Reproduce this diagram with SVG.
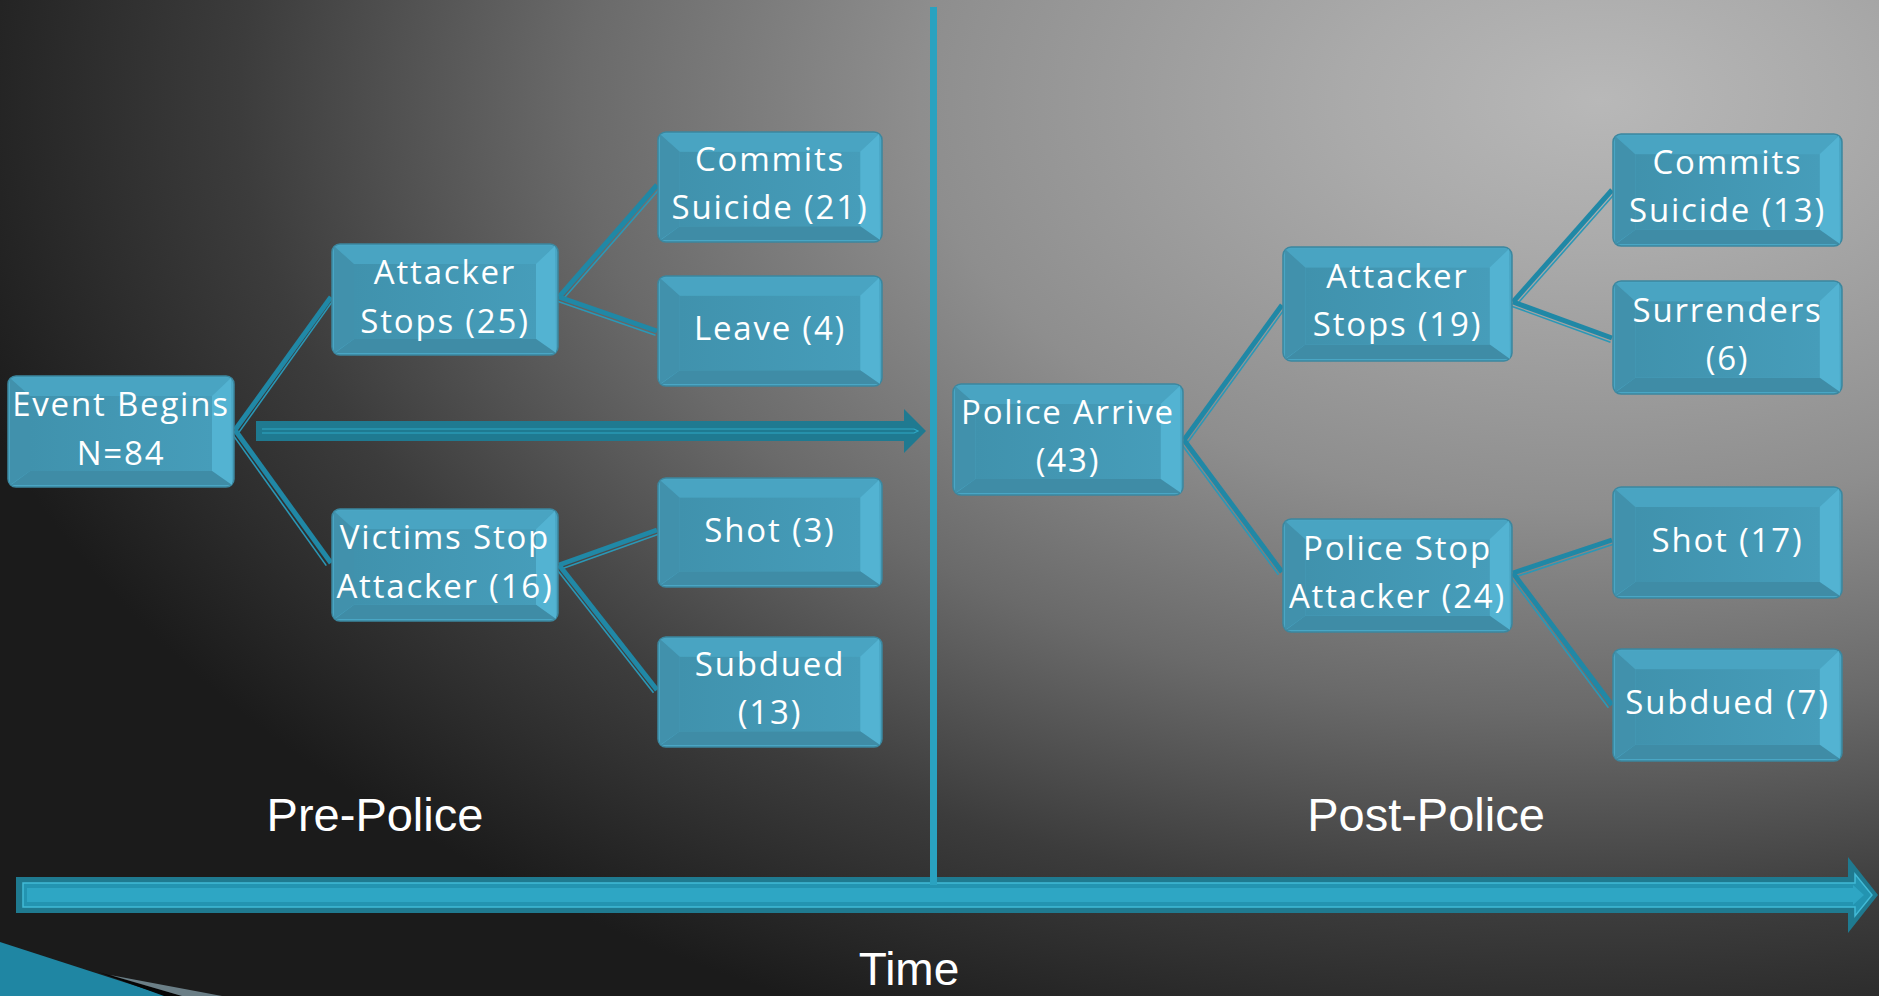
<svg xmlns="http://www.w3.org/2000/svg" width="1879" height="996" viewBox="0 0 1879 996">
<defs>
<radialGradient id="bg" gradientUnits="userSpaceOnUse" cx="1600" cy="100" r="1700" gradientTransform="translate(1600,100) scale(1,0.6) translate(-1600,-100)">
<stop offset="0" stop-color="#b8b8b8"/>
<stop offset="0.15" stop-color="#aaaaaa"/>
<stop offset="0.4" stop-color="#8e8e8e"/>
<stop offset="0.6" stop-color="#6a6a6a"/>
<stop offset="0.8" stop-color="#3c3c3c"/>
<stop offset="1" stop-color="#1b1b1b"/>
</radialGradient>
<linearGradient id="face" x1="0" y1="0" x2="1" y2="0">
<stop offset="0" stop-color="#4092ad"/>
<stop offset="1" stop-color="#469dba"/>
</linearGradient>
<symbol id="btn" viewBox="0 0 228 113" preserveAspectRatio="none">
<rect x="1" y="1" width="226" height="111" rx="8" fill="#4aa6c4" stroke="#3b879f" stroke-width="1.5"/>
<polygon points="4,3 224,3 205,21 23,21" fill="#49a4c2"/>
<polygon points="224,3 225,110 205,96 205,21" fill="#53b3d2"/>
<polygon points="4,110 225,110 205,96 23,96" fill="#3f8ca6"/>
<polygon points="3,3 3,110 23,96 23,21" fill="#4191ac"/>
<rect x="23" y="21" width="182" height="75" fill="url(#face)"/>
</symbol>
<style>
.t{font-family:"Open Sans","DejaVu Sans",sans-serif;font-size:33px;fill:#ffffff;text-anchor:middle;letter-spacing:1.8px}
.lbl{font-family:"Liberation Sans",Arial,sans-serif;font-size:47px;fill:#ffffff;text-anchor:middle}
.ck{stroke:#2088a6;stroke-width:5;fill:none}
.cn{stroke:#2a98b7;stroke-width:1.6;fill:none}
</style>
</defs>
<rect x="0" y="0" width="1879" height="996" fill="url(#bg)"/>
<g id="ornament">
<polygon points="0,942 167,996 0,996" fill="#1f86a3"/>
<polygon points="98,972 182,996 164,996" fill="#050505"/>
<polygon points="110,975 222,996 182,996" fill="#6b7f87"/>
</g>
<g id="timeline">
<polygon points="16,877 1848,877 1848,857 1878,895 1848,933 1848,913 16,913" fill="#1f7a90"/>
<polygon points="23,883 1855,883 1855,874 1872,895 1855,916 1855,907 23,907" fill="#2394b1" stroke="#42bad6" stroke-width="1.5"/>
<polygon points="27,888 1853,888 1853,885 1864,895 1853,905 1853,902 27,902" fill="#2ea6c4"/>
<rect x="930" y="7" width="7" height="878" fill="#2aa2c0"/>
</g>
<g id="connectors">
<line class="ck" x1="235" y1="430" x2="331" y2="297"/><line class="cn" x1="238.7" y1="432.6" x2="333.7" y2="299.6"/>
<line class="ck" x1="235" y1="430" x2="331" y2="563"/><line class="cn" x1="231.3" y1="432.6" x2="326.3" y2="565.6"/>
<line class="ck" x1="559" y1="297" x2="657" y2="185"/><line class="cn" x1="562.4" y1="300" x2="660.4" y2="188"/>
<line class="ck" x1="559" y1="297" x2="657" y2="331"/><line class="cn" x1="557.5" y1="301.3" x2="655.5" y2="335.3"/>
<line class="ck" x1="559" y1="565" x2="657" y2="530"/><line class="cn" x1="560.5" y1="569.2" x2="658.5" y2="534.2"/>
<line class="ck" x1="559" y1="565" x2="657" y2="690"/><line class="cn" x1="555.5" y1="567.8" x2="653.5" y2="692.8"/>
<line class="ck" x1="1184" y1="440" x2="1282" y2="305"/><line class="cn" x1="1187.6" y1="442.6" x2="1285.6" y2="307.6"/>
<line class="ck" x1="1184" y1="440" x2="1282" y2="572"/><line class="cn" x1="1180.4" y1="442.7" x2="1278.4" y2="574.7"/>
<line class="ck" x1="1513" y1="302" x2="1612" y2="190"/><line class="cn" x1="1516.4" y1="305" x2="1615.4" y2="193"/>
<line class="ck" x1="1513" y1="302" x2="1612" y2="338"/><line class="cn" x1="1511.5" y1="306.2" x2="1610.5" y2="342.2"/>
<line class="ck" x1="1513" y1="573" x2="1612" y2="540"/><line class="cn" x1="1514.4" y1="577.3" x2="1613.4" y2="544.3"/>
<line class="ck" x1="1513" y1="573" x2="1612" y2="705"/><line class="cn" x1="1509.4" y1="575.7" x2="1608.4" y2="707.7"/>
<polygon points="256,421 904,421 904,409 926,431 904,453 904,441 256,441" fill="#1f7a91"/>
<polyline points="262,433 914,433 918,431 914,429 262,429" fill="none" stroke="#2fa8c6" stroke-width="1.2"/>
</g>
<g id="n-event"><use href="#btn" x="7" y="375" width="228" height="113"/><text class="t" x="121" y="415.5">Event Begins</text><text class="t" x="121" y="464.5">N=84</text></g>
<g id="n-att25"><use href="#btn" x="331" y="243" width="228" height="113"/><text class="t" x="445" y="283.5">Attacker</text><text class="t" x="445" y="332.5">Stops (25)</text></g>
<g id="n-victims"><use href="#btn" x="331" y="508" width="228" height="114"/><text class="t" x="445" y="549">Victims Stop</text><text class="t" x="445" y="598">Attacker (16)</text></g>
<g id="n-commits21"><use href="#btn" x="657" y="131" width="226" height="112"/><text class="t" x="770" y="171">Commits</text><text class="t" x="770" y="219">Suicide (21)</text></g>
<g id="n-leave"><use href="#btn" x="657" y="275" width="226" height="112"/><text class="t" x="770" y="340">Leave (4)</text></g>
<g id="n-shot3"><use href="#btn" x="657" y="477" width="226" height="111"/><text class="t" x="770" y="541.5">Shot (3)</text></g>
<g id="n-subdued13"><use href="#btn" x="657" y="636" width="226" height="112"/><text class="t" x="770" y="676">Subdued</text><text class="t" x="770" y="724">(13)</text></g>
<g id="n-police"><use href="#btn" x="952" y="383" width="232" height="113"/><text class="t" x="1068" y="423.5">Police Arrive</text><text class="t" x="1068" y="472">(43)</text></g>
<g id="n-att19"><use href="#btn" x="1282" y="246" width="231" height="116"/><text class="t" x="1397.5" y="288">Attacker</text><text class="t" x="1397.5" y="336">Stops (19)</text></g>
<g id="n-policestop"><use href="#btn" x="1282" y="518" width="231" height="115"/><text class="t" x="1397.5" y="559.5">Police Stop</text><text class="t" x="1397.5" y="607.5">Attacker (24)</text></g>
<g id="n-commits13"><use href="#btn" x="1612" y="133" width="231" height="114"/><text class="t" x="1727.5" y="174">Commits</text><text class="t" x="1727.5" y="222">Suicide (13)</text></g>
<g id="n-surrenders"><use href="#btn" x="1612" y="280" width="231" height="115"/><text class="t" x="1727.5" y="321.5">Surrenders</text><text class="t" x="1727.5" y="369.5">(6)</text></g>
<g id="n-shot17"><use href="#btn" x="1612" y="486" width="231" height="113"/><text class="t" x="1727.5" y="551.5">Shot (17)</text></g>
<g id="n-subdued7"><use href="#btn" x="1612" y="648" width="231" height="114"/><text class="t" x="1727.5" y="714">Subdued (7)</text></g>
<g id="labels">
<text class="lbl" x="375" y="831">Pre-Police</text>
<text class="lbl" x="1426" y="831">Post-Police</text>
<text class="lbl" x="909" y="985" style="font-size:46px">Time</text>
</g>
</svg>
